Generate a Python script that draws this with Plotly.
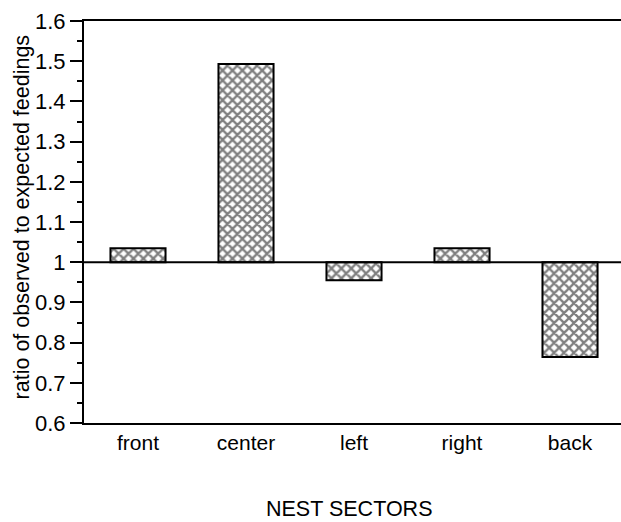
import plotly.graph_objects as go

# Nest sectors and the ratio of observed to expected feedings in each
sectors = ["front", "center", "left", "right", "back"]
ratios = [1.035, 1.493, 0.955, 1.035, 0.764]
baseline = 1.0

y_tick_vals = [0.6, 0.7, 0.8, 0.9, 1.0, 1.1, 1.2, 1.3, 1.4, 1.5, 1.6]
y_tick_text = ["0.6", "0.7", "0.8", "0.9", "1", "1.1", "1.2", "1.3", "1.4", "1.5", "1.6"]

FONT = "Liberation Sans, Arial, Helvetica, sans-serif"

fig = go.Figure()

# bars rise or fall from the expected ratio of 1
fig.add_trace(go.Bar(
    x=sectors,
    y=[r - baseline for r in ratios],
    base=baseline,
    width=0.51,
    marker=dict(
        color="white",
        line=dict(color="black", width=2),
        pattern=dict(shape="x", size=7, solidity=0.55,
                     fgcolor="black", bgcolor="white"),
    ),
    hoverinfo="skip",
))

# reference line at the expected ratio
fig.add_shape(type="line", xref="paper", x0=0, x1=1, yref="y",
              y0=baseline, y1=baseline,
              line=dict(color="black", width=2))

fig.update_layout(
    width=621, height=522,
    margin=dict(l=84, r=0, t=21, b=99),
    paper_bgcolor="white", plot_bgcolor="white",
    showlegend=False,
    font=dict(family=FONT, size=21, color="black"),
    xaxis=dict(
        range=[-0.5, 4.472],
        showline=True, linecolor="black", linewidth=2, mirror=True,
        ticks="", showgrid=False, zeroline=False,
        tickfont=dict(size=21),
    ),
    yaxis=dict(
        range=[0.6, 1.6],
        tickvals=y_tick_vals, ticktext=y_tick_text,
        ticks="outside", ticklen=12, tickwidth=1.5, tickcolor="black",
        minor=dict(dtick=0.05, ticks="outside", ticklen=5,
                   tickwidth=1.5, tickcolor="black", showgrid=False),
        showline=True, linecolor="black", linewidth=2,
        showgrid=False, zeroline=False,
        tickfont=dict(size=22),
    ),
    annotations=[
        dict(text="ratio of observed to expected feedings",
             xref="paper", yref="paper", x=-0.115, y=0.512,
             xanchor="center", yanchor="middle", textangle=-90,
             showarrow=False, font=dict(size=21.5)),
        dict(text="NEST SECTORS",
             xref="paper", yref="paper", x=0.4926, y=-0.214,
             xanchor="center", yanchor="middle",
             showarrow=False, font=dict(size=21.5)),
    ],
)

fig.write_html("out.html")
